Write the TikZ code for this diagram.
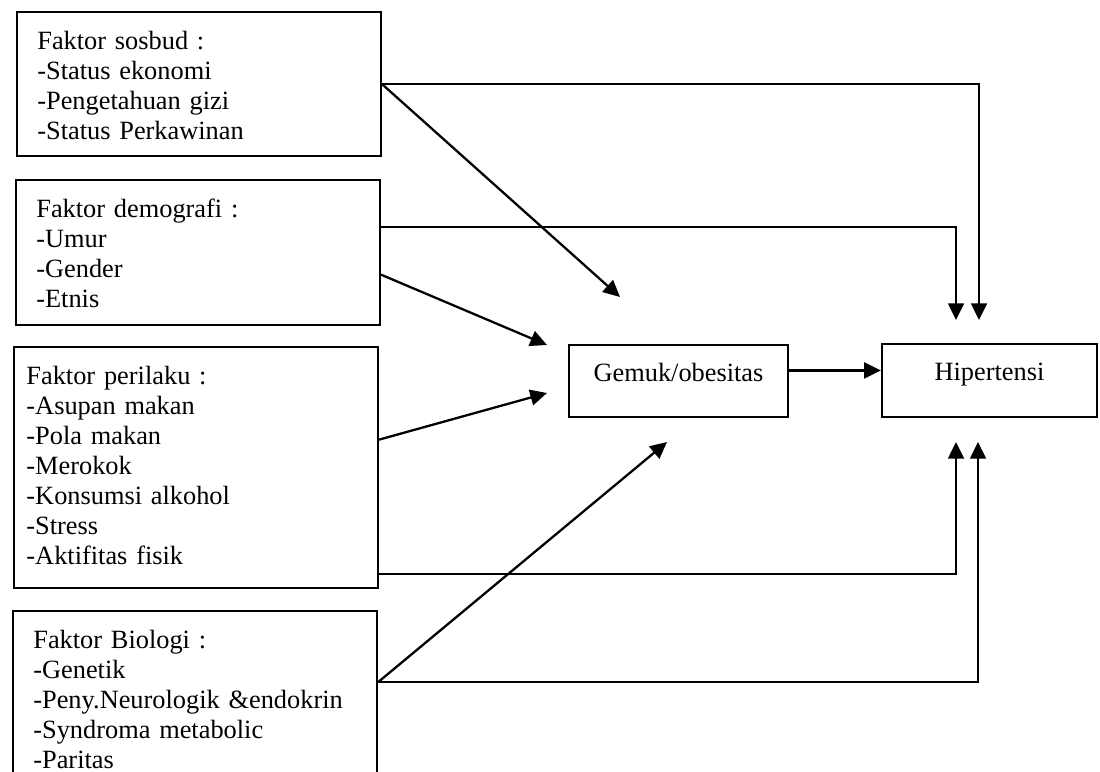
\documentclass[tikz,border=0pt]{standalone}
\usepackage{fontspec}
\setmainfont{Liberation Serif}
\usetikzlibrary{positioning, arrows.meta, calc}

\begin{document}
\begin{tikzpicture}[x=0.2mm, y=-0.2mm,
  factor/.style={draw, line width=1.3pt, anchor=north west, align=left, text width=184pt, inner xsep=11.5pt, inner ysep=10.75pt, text height=10.25pt, font=\fontsize{15pt}{17.1pt}\selectfont},
  box/.style={draw, line width=1.3pt, minimum height=41pt, text height=10pt, text depth=10pt, font=\fontsize{15pt}{17.1pt}\selectfont},
  arr/.style={-{Triangle[length=9.5pt, width=9pt]}, line width=1.3pt}]
  \useasboundingbox (0,0) rectangle (1100,772);
  % factor boxes
  \node[factor, text depth=50.2pt] (sosbud) at (16,11) {Faktor sosbud :\\-Status ekonomi\\-Pengetahuan gizi\\-Status Perkawinan};
  \node[factor, text depth=50.8pt] (demografi) at (15,179) {Faktor demografi :\\-Umur\\-Gender\\-Etnis};
  \node[factor, text depth=105.4pt, inner xsep=7pt, text width=193pt] (perilaku) at (13,346) {Faktor perilaku :\\-Asupan makan\\-Pola makan\\-Merokok\\-Konsumsi alkohol\\-Stress\\-Aktifitas fisik};
  \node[factor, text depth=76.4pt] (biologi) at (12,610) {Faktor Biologi :\\-Genetik\\-Peny.Neurologik \&endokrin\\-Syndroma metabolic\\-Paritas};
  % outcome boxes
  \node[box, minimum width=124.6pt] (gemuk) at (678.5,381) {Gemuk/obesitas};
  \node[box, minimum width=122.3pt, minimum height=41.5pt] (hip) at (989.5,380.5) {Hipertensi};
  % free arrow ends
  \coordinate (gemA) at (620,297);
  \coordinate (gemB) at (547,345);
  \coordinate (gemC) at (547,393);
  \coordinate (gemD) at (667,442);
  \coordinate (hipA) at (956,320);
  \coordinate (hipB) at (979,320);
  \coordinate (hipC) at (956,442);
  \coordinate (hipD) at (978,442);
  % connectors
  \draw[arr] (sosbud.east) -| (hipB);
  \draw[arr] (sosbud.east) -- (gemA);
  \draw[arr] ($(demografi.east)+(0,-26)$) -| (hipA);
  \draw[arr] ($(demografi.east)+(0,22)$) -- (gemB);
  \draw[arr] ($(perilaku.east)+(0,-28)$) -- (gemC);
  \draw[arr] ($(perilaku.east)+(0,106)$) -| (hipC);
  \draw[arr] ($(biologi.east)+(0,-24)$) -- (gemD);
  \draw[arr] ($(biologi.east)+(0,-24)$) -| (hipD);
  \draw[arr] ([yshift=6pt]gemuk.east) -- ([yshift=6pt]gemuk.east -| hip.west);
\end{tikzpicture}
\end{document}
